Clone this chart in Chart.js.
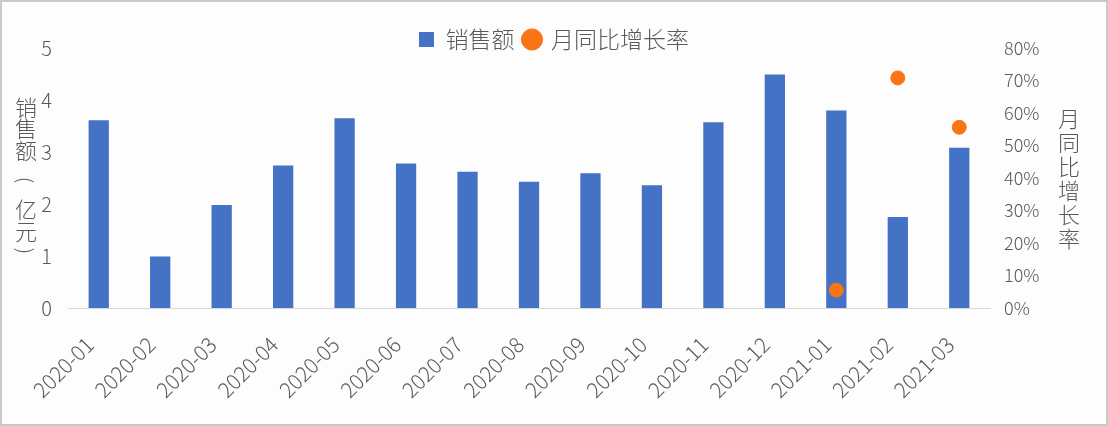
<!DOCTYPE html>
<html lang="zh">
<head>
  <meta charset="UTF-8" />
  <title>销售额与月同比增长率</title>
  <script src="https://cdn.jsdelivr.net/npm/chart.js"></script>
  <style>
    body { margin: 0; background: #fff; }
    #wrap { position: relative; width: 1108px; height: 426px; background: #fdfdfd; }
    #frame { position: absolute; left: 0; top: 0; width: 1108px; height: 426px; box-sizing: border-box; border: 2px solid #c9c9c9; pointer-events: none; }
  </style>
</head>
<body>
  <div id="wrap">
    <canvas id="chart" width="1108" height="426"></canvas>
    <div id="frame"></div>
  </div>
  <script>
    const months = ['2020-01', '2020-02', '2020-03', '2020-04', '2020-05', '2020-06', '2020-07', '2020-08',
      '2020-09', '2020-10', '2020-11', '2020-12', '2021-01', '2021-02', '2021-03'];
    // 销售额（亿元）
    const sales = [3.61, 0.99, 1.98, 2.74, 3.65, 2.78, 2.62, 2.43, 2.59, 2.36, 3.57, 4.49, 3.80, 1.75, 3.08];
    // 月同比增长率（%），2021 年起才有
    const growth = [null, null, null, null, null, null, null, null, null, null, null, null, 5.5, 70.8, 55.6];
    const leftTitle = ['销', '售', '额', '(', '亿', '元', ')'];
    const rightTitle = ['月', '同', '比', '增', '长', '率'];

    const FONT = '"Noto Sans CJK SC", "Noto Sans", sans-serif';
    const GREY = '#595959';

    // 竖排坐标轴标题（括号旋转 90°）
    const verticalTitles = {
      id: 'verticalTitles',
      afterDraw(chart) {
        const ctx = chart.ctx;
        const leftY = [108, 129, 151, 180, 210, 232, 251];
        ctx.save();
        ctx.fillStyle = GREY;
        ctx.textAlign = 'center';
        ctx.textBaseline = 'middle';
        leftTitle.forEach((c, i) => {
          if (c === '(' || c === ')') {
            ctx.save();
            ctx.font = '300 20px ' + FONT;
            ctx.translate(26, leftY[i]);
            ctx.rotate(Math.PI / 2);
            ctx.fillText(c, 0, 0);
            ctx.restore();
          } else {
            ctx.font = '300 22px ' + FONT;
            ctx.fillText(c, 26, leftY[i]);
          }
        });
        ctx.font = '300 22px ' + FONT;
        rightTitle.forEach((c, i) => ctx.fillText(c, 1069, 119 + i * 24));
        ctx.restore();
      }
    };

    // 图例下移，与绘图区上沿重叠（同原图）
    const legendShift = {
      id: 'legendShift',
      afterLayout(chart) {
        const lg = chart.legend;
        if (!lg) return;
        lg.top += 13;
        lg.bottom += 13;
      }
    };

    new Chart(document.getElementById('chart'), {
      type: 'bar',
      data: {
        labels: months,
        datasets: [
          {
            label: '销售额',
            data: sales,
            backgroundColor: '#4472C4',
            barPercentage: 0.33,
            categoryPercentage: 1,
            yAxisID: 'y',
            pointStyle: 'rect',
            order: 2
          },
          {
            label: '月同比增长率',
            type: 'line',
            data: growth,
            showLine: false,
            backgroundColor: '#F87516',
            borderColor: '#F87516',
            pointRadius: 7,
            pointHoverRadius: 7,
            pointStyle: 'circle',
            yAxisID: 'y1',
            order: 1
          }
        ]
      },
      options: {
        responsive: false,
        animation: false,
        layout: { padding: { top: 5, left: 0, right: 0, bottom: 0 } },
        plugins: {
          tooltip: { enabled: false },
          legend: {
            position: 'top',
            labels: {
              usePointStyle: true,
              boxWidth: 15,
              boxHeight: 15,
              padding: 10,
              color: GREY,
              font: { family: FONT, size: 23, weight: 300 },
              sort: (a, b) => a.datasetIndex - b.datasetIndex
            }
          }
        },
        scales: {
          x: {
            grid: { display: false, drawTicks: false },
            border: { display: true, color: '#d9d9d9', width: 1 },
            ticks: {
              color: GREY,
              font: { family: FONT, size: 21, weight: 300 },
              minRotation: 45,
              maxRotation: 45,
              padding: 24,
              labelOffset: -9
            },
            afterFit(scale) { scale.height = 118; }
          },
          y: {
            position: 'left',
            min: 0,
            max: 5,
            grid: { display: false, drawTicks: false },
            border: { display: false },
            ticks: {
              stepSize: 1,
              color: GREY,
              font: { family: FONT, size: 20, weight: 300 },
              padding: 16
            },
            afterFit(scale) { scale.width = 68; }
          },
          y1: {
            position: 'right',
            min: 0,
            max: 80,
            grid: { display: false, drawTicks: false },
            border: { display: false },
            ticks: {
              stepSize: 10,
              color: GREY,
              font: { family: FONT, size: 18, weight: 300 },
              padding: 14,
              callback: v => v + '%'
            },
            afterFit(scale) { scale.width = 118; }
          }
        }
      },
      plugins: [verticalTitles, legendShift]
    });
  </script>
</body>
</html>
